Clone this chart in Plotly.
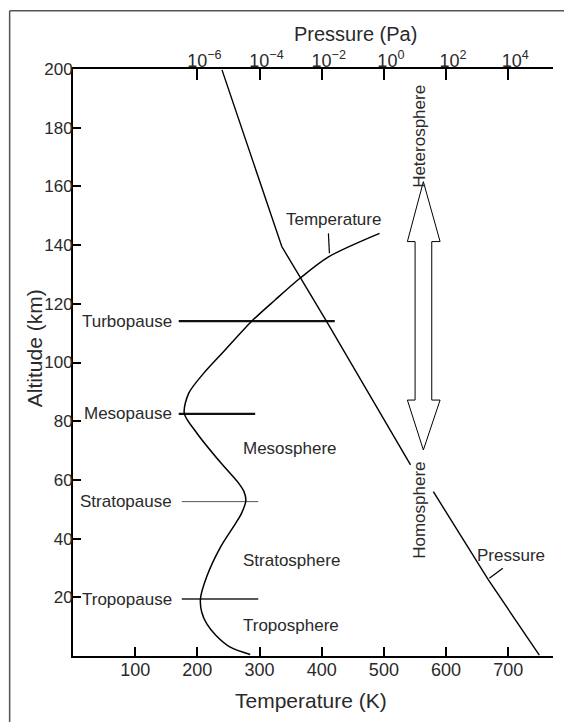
import plotly.graph_objects as go

# ---------------- data ----------------
# Temperature profile (altitude km, temperature K)
temp_alt = [0.5, 3, 7, 11, 15, 19.5, 27, 37, 45, 48.6, 53, 56, 59, 66, 76, 82.7,
            89.5, 96.3, 103.7, 114, 121.3, 128.7, 136, 144]
temp_K = [285, 253, 230, 215, 207, 205, 215, 237, 261, 271, 278, 275, 266, 237, 199, 179,
          186, 210, 242, 287, 325, 365, 411, 493]

# Pressure profile (altitude km, pressure Pa); None marks the gap at the "Homosphere" label
pres_alt = [0.3, 25.9, 56.0, None, 65.1, 113.9, 139.5, 199.7]
pres_Pa = [1.0e5, 2.3e3, 39.0, None, 7.2, 1.45e-2, 5.2e-4, 6.2e-6]

# Layer boundaries
boundary_names = ["Tropopause", "Stratopause", "Mesopause", "Turbopause"]
boundary_alt = [19.4, 52.6, 82.5, 114.1]
boundary_T0 = [175, 175, 170, 170]
boundary_T1 = [298, 298, 293, 421]

# Region labels
region_names = ["Troposphere", "Stratosphere", "Mesosphere"]
region_alt = [10.5, 32.7, 70.8]

# Axis ticks
temp_ticks = [100, 200, 300, 400, 500, 600, 700]
alt_ticks = [20, 40, 60, 80, 100, 120, 140, 160, 180, 200]
pres_tick_exp = [-6, -4, -2, 0, 2, 4]
pres_ticks = [10.0 ** e for e in pres_tick_exp]
pres_ticktext = ["10<sup>\u2212%d</sup>" % -e if e < 0 else "10<sup>%d</sup>" % e for e in pres_tick_exp]

LBL = "Liberation Sans, Arial, Helvetica, sans-serif"
REG = "Liberation Sans, Arial, Helvetica, sans-serif"
TXT = "#2a2a2a"
LS = 17

fig = go.Figure()

# boundary lines
bw = [1.6, 1.0, 2.2, 2.2]
bc = ["#222", "#555", "#111", "#111"]
for i in range(len(boundary_names)):
    fig.add_trace(go.Scatter(x=[boundary_T0[i], boundary_T1[i]],
                             y=[boundary_alt[i], boundary_alt[i]],
                             mode="lines", line=dict(color=bc[i], width=bw[i]),
                             hoverinfo="skip"))
    fig.add_annotation(x=162, y=boundary_alt[i], xref="x", yref="y",
                       text=boundary_names[i], showarrow=False, xanchor="right",
                       yanchor="middle", font=dict(family=LBL, size=LS, color=TXT))

# temperature curve
fig.add_trace(go.Scatter(x=temp_K, y=temp_alt, mode="lines",
                         line=dict(color="black", width=1.5, shape="spline", smoothing=0.8),
                         name="Temperature"))

# pressure curve (top log axis)
fig.add_trace(go.Scatter(x=pres_Pa, y=pres_alt, xaxis="x2", yaxis="y", mode="lines",
                         line=dict(color="black", width=1.4), connectgaps=False,
                         name="Pressure"))

for name, a in zip(region_names, region_alt):
    fig.add_annotation(x=270, y=a, xref="x", yref="y", text=name, showarrow=False,
                       xanchor="left", yanchor="middle",
                       font=dict(family=LBL, size=LS, color=TXT))

# curve labels
fig.add_annotation(x=419, y=148.6, xref="x", yref="y", text="Temperature", showarrow=False,
                   font=dict(family=LBL, size=LS, color=TXT))
fig.add_shape(type="line", xref="x", yref="y", x0=410.8, y0=144, x1=412.4, y1=137.2,
              line=dict(color="black", width=1.2))
fig.add_annotation(x=704, y=34.4, xref="x", yref="y", text="Pressure", showarrow=False,
                   font=dict(family=LBL, size=LS, color=TXT))
fig.add_shape(type="line", xref="x", yref="y", x0=669.6, y0=26.5, x1=691.2, y1=29.9,
              line=dict(color="black", width=1.2))

# Heterosphere / Homosphere
fig.add_annotation(x=558, y=177.2, xref="x", yref="y", text="Heterosphere", showarrow=False,
                   textangle=-90, font=dict(family=LBL, size=LS, color=TXT))
fig.add_annotation(x=556, y=49.7, xref="x", yref="y", text="Homosphere", showarrow=False,
                   textangle=-90, font=dict(family=LBL, size=LS, color=TXT))

# hollow double arrow
tipx, hl, hr, sl, sr = 563.5, 537.8, 590.4, 550.2, 577.0
ytop, yhb1, yhb2, ybot = 161.6, 141.2, 87.2, 70.2
path = (f"M {tipx},{ytop} L {hr},{yhb1} L {sr},{yhb1} L {sr},{yhb2} L {hr},{yhb2} "
        f"L {tipx},{ybot} L {hl},{yhb2} L {sl},{yhb2} L {sl},{yhb1} L {hl},{yhb1} Z")
fig.add_shape(type="path", path=path, xref="x", yref="y",
              line=dict(color="black", width=1), fillcolor="white")

# axis titles
fig.add_annotation(x=454.8, y=1.059, xref="x", yref="paper", text="Pressure (Pa)",
                   showarrow=False, yanchor="middle",
                   font=dict(family=REG, size=20, color=TXT))
fig.add_annotation(x=383, y=-0.075, xref="x", yref="paper", text="Temperature (K)",
                   showarrow=False, yanchor="middle",
                   font=dict(family=REG, size=21, color=TXT))
fig.add_annotation(x=-0.081, y=104.9, xref="paper", yref="y", text="Altitude (km)",
                   showarrow=False, textangle=-90, xanchor="center",
                   font=dict(family=REG, size=21, color=TXT))

# frame
fig.add_shape(type="line", xref="paper", yref="paper", x0=-0.132, x1=-0.132, y0=1.0991, y1=-0.2,
              line=dict(color="#555", width=1.5))
fig.add_shape(type="line", xref="paper", yref="paper", x0=-0.132, x1=1.1, y0=1.0991, y1=1.0991,
              line=dict(color="#555", width=1.5))

fig.update_layout(
    width=564, height=722,
    margin=dict(l=73, r=11, t=69, b=66, autoexpand=False),
    plot_bgcolor="white", paper_bgcolor="white",
    showlegend=False,
    xaxis=dict(range=[0, 772], tickvals=temp_ticks, ticks="inside", ticklen=9, tickwidth=2,
               tickcolor="black", showline=True, linecolor="black", linewidth=2,
               showgrid=False, zeroline=False, automargin=False,
               ticklabelstandoff=-4,
               tickfont=dict(family=REG, size=18, color=TXT)),
    xaxis2=dict(type="log", range=[-10, 5.44], overlaying="x", side="top", anchor="y",
                tickvals=pres_ticks, ticktext=pres_ticktext, ticks="inside", ticklen=11,
                tickwidth=2, tickcolor="black", showline=True, linecolor="black",
                linewidth=2, showgrid=False, zeroline=False, automargin=False,
                ticklabelshift=7, ticklabelstandoff=-7,
                tickfont=dict(family=REG, size=18, color=TXT)),
    yaxis=dict(range=[0, 200], tickvals=alt_ticks, ticks="inside", ticklen=8, tickwidth=2,
               tickcolor="black", showline=True, linecolor="black", linewidth=2,
               showgrid=False, zeroline=False, automargin=False,
               ticklabelstandoff=-5,
               tickfont=dict(family=REG, size=17, color=TXT)),
)

fig.write_html("out.html", config={"displayModeBar": False},
               post_script="document.body.style.margin='0px';")
